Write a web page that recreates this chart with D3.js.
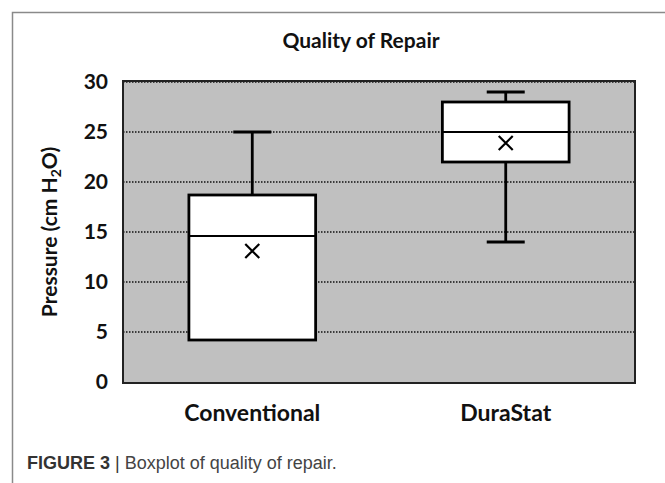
<!DOCTYPE html>
<html>
<head>
<meta charset="utf-8">
<script src="https://cdn.jsdelivr.net/npm/d3@7"></script>
<style>
  body { margin: 0; background: #fff; }
  text { font-family: Lato, "Open Sans", sans-serif; }
</style>
</head>
<body>
<svg width="665" height="483"></svg>
<script>
// box plot stats
var groups = ["Conventional", "DuraStat"];
var minVals = [4.2, 14];
var q1Vals = [4.2, 22];
var medVals = [14.6, 25];
var q3Vals = [18.7, 28];
var maxVals = [25, 29];
var meanVals = [13.1, 23.9];
var yTicks = [0, 5, 10, 15, 20, 25, 30];

var svg = d3.select("svg"),
    width = +svg.attr("width"),
    height = +svg.attr("height");

var plot = { left: 123, right: 635, top: 82, bottom: 382 };

var x = d3.scaleBand().domain(groups).range([plot.left, plot.right]).paddingInner(0.5).paddingOuter(0.26);
var y = d3.scaleLinear().domain([0, 30]).range([plot.bottom, plot.top]);

// outer frame (open at right/bottom like the source crop)
svg.append("path")
    .attr("d", "M12.5," + height + "V12.5H" + width)
    .attr("fill", "none")
    .attr("stroke", "#8a8a8a")
    .attr("stroke-width", 1.5);

svg.append("text")
    .attr("x", 361)
    .attr("y", 48)
    .attr("text-anchor", "middle")
    .attr("font-weight", "bold")
    .attr("font-size", 21)
    .attr("fill", "#111")
    .text("Quality of Repair");

// plot background
svg.append("rect")
    .attr("x", plot.left)
    .attr("y", plot.top)
    .attr("width", plot.right - plot.left)
    .attr("height", plot.bottom - plot.top + 1)
    .attr("fill", "#c0c0c0");

// dotted gridlines
svg.append("g")
    .selectAll("line")
    .data(yTicks.filter(function(d) { return d > 0; }))
    .enter().append("line")
    .attr("x1", plot.left)
    .attr("x2", plot.right)
    .attr("y1", function(d) { return y(d); })
    .attr("y2", function(d) { return y(d); })
    .attr("stroke", "#111")
    .attr("stroke-width", 1.5)
    .attr("stroke-dasharray", "1.5,1.5");

// y axis labels
var ya = svg.append("g")
    .attr("transform", "translate(" + plot.left + ",0)")
    .call(d3.axisLeft(y).tickValues(yTicks).tickSize(0).tickPadding(15));
ya.select(".domain").remove();
ya.selectAll("text")
    .attr("font-family", "Lato, sans-serif")
    .attr("font-weight", "bold")
    .attr("font-size", 21)
    .attr("fill", "#111");

// x axis labels
var xa = svg.append("g")
    .attr("transform", "translate(0," + plot.bottom + ")")
    .call(d3.axisBottom(x).tickSize(0).tickPadding(23));
xa.select(".domain").remove();
xa.selectAll("text")
    .attr("font-family", "Lato, sans-serif")
    .attr("font-weight", "bold")
    .attr("font-size", 23)
    .attr("fill", "#111");

// y axis title
var yt = svg.append("text")
    .attr("transform", "translate(57," + ((plot.top + plot.bottom) / 2) + ") rotate(-90)")
    .attr("text-anchor", "middle")
    .attr("font-weight", "bold")
    .attr("font-size", 21)
    .attr("fill", "#111");
yt.append("tspan").text("Pressure (cm H");
yt.append("tspan").attr("font-size", 14).attr("dy", 4).text("2");
yt.append("tspan").attr("dy", -4).text("O)");

// plot border
svg.append("rect")
    .attr("x", plot.left)
    .attr("y", plot.top - 1)
    .attr("width", plot.right - plot.left)
    .attr("height", plot.bottom - plot.top + 2)
    .attr("fill", "none")
    .attr("stroke", "#222")
    .attr("stroke-width", 2);

// boxes
var boxes = svg.append("g").selectAll("g")
    .data(groups)
    .enter().append("g");

var capW = 38;

boxes.each(function(d, i) {
  var g = d3.select(this);
  var cx = x(d) + x.bandwidth() / 2;
  // upper whisker
  g.append("line")
      .attr("x1", cx).attr("x2", cx)
      .attr("y1", y(q3Vals[i])).attr("y2", y(maxVals[i]))
      .attr("stroke", "#000").attr("stroke-width", 2.8);
  g.append("line")
      .attr("x1", cx - capW / 2).attr("x2", cx + capW / 2)
      .attr("y1", y(maxVals[i])).attr("y2", y(maxVals[i]))
      .attr("stroke", "#000").attr("stroke-width", 2.8);
  // lower whisker
  if (minVals[i] < q1Vals[i]) {
    g.append("line")
        .attr("x1", cx).attr("x2", cx)
        .attr("y1", y(q1Vals[i])).attr("y2", y(minVals[i]))
        .attr("stroke", "#000").attr("stroke-width", 2.8);
    g.append("line")
        .attr("x1", cx - capW / 2).attr("x2", cx + capW / 2)
        .attr("y1", y(minVals[i])).attr("y2", y(minVals[i]))
        .attr("stroke", "#000").attr("stroke-width", 2.8);
  }
  g.append("rect")
      .attr("x", x(d))
      .attr("y", y(q3Vals[i]))
      .attr("width", x.bandwidth())
      .attr("height", y(q1Vals[i]) - y(q3Vals[i]))
      .attr("fill", "#fff")
      .attr("stroke", "#000")
      .attr("stroke-width", 2.8);
  g.append("line")
      .attr("x1", x(d)).attr("x2", x(d) + x.bandwidth())
      .attr("y1", y(medVals[i])).attr("y2", y(medVals[i]))
      .attr("stroke", "#000").attr("stroke-width", 2.2);
  // mean marker
  var my = y(meanVals[i]), s = 7;
  g.append("path")
      .attr("d", "M" + (cx - s) + "," + (my - s) + "L" + (cx + s) + "," + (my + s) +
                 "M" + (cx - s) + "," + (my + s) + "L" + (cx + s) + "," + (my - s))
      .attr("stroke", "#000").attr("stroke-width", 2.2);
});

// caption
var cap = svg.append("text")
    .attr("x", 27)
    .attr("y", 469)
    .attr("font-size", 18)
    .style("font-family", "'Liberation Sans', Arial, sans-serif");
cap.append("tspan").attr("font-weight", "bold").attr("fill", "#333").text("FIGURE 3");
cap.append("tspan").attr("fill", "#333").text(" | ");
cap.append("tspan").attr("fill", "#444").text("Boxplot of quality of repair.");
</script>
</body>
</html>
